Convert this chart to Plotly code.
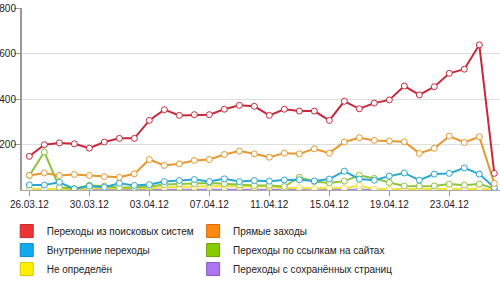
import plotly.graph_objects as go

dates = ["26.03.12", "27.03.12", "28.03.12", "29.03.12", "30.03.12", "31.03.12",
         "01.04.12", "02.04.12", "03.04.12", "04.04.12", "05.04.12", "06.04.12",
         "07.04.12", "08.04.12", "09.04.12", "10.04.12", "11.04.12", "12.04.12",
         "13.04.12", "14.04.12", "15.04.12", "16.04.12", "17.04.12", "18.04.12",
         "19.04.12", "20.04.12", "21.04.12", "22.04.12", "23.04.12", "24.04.12",
         "25.04.12", "26.04.12"]
tick_labels = ["26.03.12", "30.03.12", "03.04.12", "07.04.12",
               "11.04.12", "15.04.12", "19.04.12", "23.04.12"]
y_ticks = [200, 400, 600, 800]

search = [148, 199, 207, 203, 184, 211, 227, 227, 306, 353, 328, 331, 331, 355, 372, 368,
          328, 355, 347, 347, 306, 390, 357, 382, 396, 457, 418, 454, 513, 531, 638, 73]
direct = [64, 75, 64, 68, 64, 59, 56, 71, 134, 108, 115, 130, 134, 156, 171, 159,
          144, 162, 159, 181, 162, 211, 230, 218, 215, 212, 161, 183, 237, 209, 234, 29]
internal = [22, 22, 34, 5, 17, 12, 30, 20, 24, 37, 42, 46, 37, 49, 37, 42,
            39, 44, 45, 40, 48, 83, 48, 43, 61, 75, 43, 70, 73, 97, 70, 11]
links = [64, 167, 12, 6, 21, 17, 11, 11, 15, 24, 27, 27, 31, 27, 22, 20,
         20, 15, 56, 37, 31, 39, 65, 51, 33, 18, 17, 18, 26, 21, 26, 7]
undefined = [5, 5, 3, 3, 8, 8, 6, 5, 8, 12, 14, 15, 18, 18, 15, 15,
             15, 8, 10, 5, 10, 8, 20, 3, 3, 4, 3, 4, 6, 4, 5, 1]
saved = [1] * 32

names = ["Переходы из поисковых систем", "Прямые заходы", "Внутренние переходы",
         "Переходы по ссылкам на сайтах", "Не определён", "Переходы с сохранённых страниц"]
series = [search, direct, internal, links, undefined, saved]
line_colors = ["#c8283a", "#e8972c", "#2aa8d2", "#8cc43c", "#f2e23a", "#a486e0"]
legend_colors = ["#ee3333", "#ff8811", "#11aaee", "#88cc00", "#ffee00", "#aa77ee"]
legend_borders = ["#c02828", "#d86a00", "#0a88c0", "#6aa000", "#d8c800", "#8858c8"]
legend_ids = ["legend", "legend2", "legend", "legend2", "legend", "legend2"]

fig = go.Figure()
for vals, col in reversed(list(zip(series, line_colors))):
    fig.add_trace(go.Scatter(
        x=dates, y=vals, mode="lines+markers", showlegend=False,
        line=dict(color=col, width=2),
        marker=dict(size=6, color="white", line=dict(color=col, width=1)),
    ))
for name, col, bcol, lid in zip(names, legend_colors, legend_borders, legend_ids):
    fig.add_trace(go.Scatter(
        x=[None], y=[None], mode="markers", name=name, legend=lid,
        marker=dict(symbol="square", size=13, color=col, line=dict(color=bcol, width=1)),
    ))

legend_common = dict(
    orientation="v", yanchor="top", xanchor="left", y=-0.146,
    font=dict(size=10, color="#222"), itemsizing="trace",
    bgcolor="rgba(0,0,0,0)", tracegroupgap=0,
)

fig.update_layout(
    width=500, height=290,
    margin=dict(l=22, r=0, t=8, b=100, autoexpand=False),
    paper_bgcolor="white", plot_bgcolor="white",
    font=dict(family="Liberation Sans, Arial, sans-serif", size=10, color="#222"),
    xaxis=dict(
        type="category", range=[-0.49, 31.38], tickmode="array",
        tickvals=tick_labels, ticktext=tick_labels,
        showgrid=False, ticks="outside", ticklen=5, tickcolor="#999",
        showline=True, linecolor="#aaa", linewidth=1,
        tickfont=dict(size=10, color="#222"), automargin=False,
    ),
    yaxis=dict(
        range=[0, 800], tickmode="array", tickvals=y_ticks,
        showgrid=True, gridcolor="#dedede", gridwidth=1,
        ticks="outside", ticklen=6, tickcolor="#999", ticklabelstandoff=-4,
        showline=True, linecolor="#999", linewidth=2,
        zeroline=False, tickfont=dict(size=10, color="#222"), automargin=False,
    ),
    legend=dict(x=-0.032, **legend_common),
    legend2=dict(x=0.358, **legend_common),
)

fig.write_html("out.html")
